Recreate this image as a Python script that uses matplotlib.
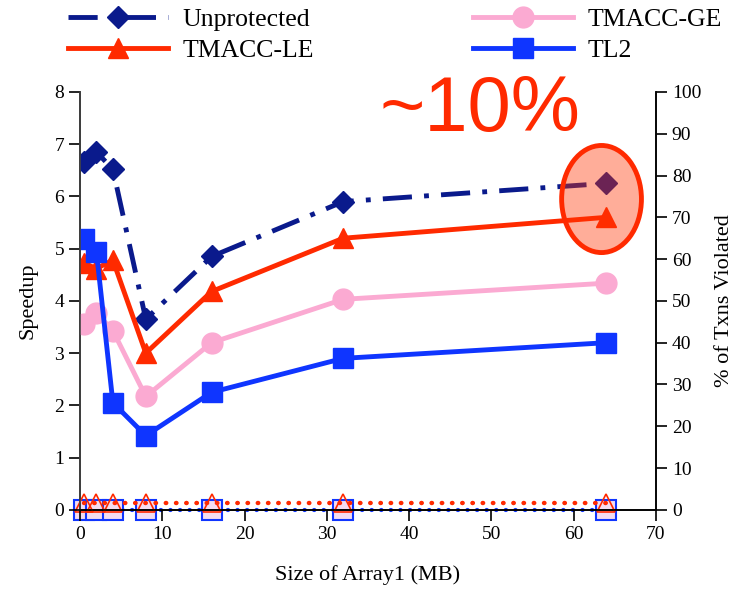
import matplotlib.pyplot as plt
from matplotlib.patches import Ellipse

# Data
sizes_mb = [0.5, 2, 4, 8, 16, 32, 64]
unprotected = [6.65, 6.85, 6.52, 3.65, 4.85, 5.9, 6.25]
tmacc_le = [4.72, 4.62, 4.78, 3.0, 4.18, 5.2, 5.6]
tmacc_ge = [3.55, 3.77, 3.43, 2.17, 3.2, 4.03, 4.34]
tl2 = [5.18, 4.94, 2.05, 1.42, 2.25, 2.9, 3.2]

# % of transactions violated (right axis)
viol_le = [1.7, 1.7, 1.7, 1.7, 1.7, 1.7, 1.7]
viol_tl2 = [0, 0, 0, 0, 0, 0, 0]

C_NAVY = '#0a1a8c'
C_RED = '#ff2a00'
C_PINK = '#fbaad2'
C_BLUE = '#0f35ff'

plt.rcParams['font.family'] = ['Liberation Serif', 'DejaVu Serif']

fig = plt.figure(figsize=(7.44, 5.97), dpi=100)
ax = fig.add_axes([0.1075, 0.146, 0.774, 0.70])
ax2 = ax.twinx()

# violation curves on the right axis
ax2.plot(sizes_mb, viol_tl2, linestyle=(0, (0.1, 2.2)), dash_capstyle='round', color=C_BLUE,
         lw=3, marker='s', ms=15, markerfacecolor='#f3dcf0', markeredgecolor=C_BLUE,
         markeredgewidth=1.5, zorder=2, clip_on=False)
ax2.plot(sizes_mb, viol_le, linestyle=(0, (0.1, 2.2)), dash_capstyle='round', color=C_RED,
         lw=3.2, marker='^', ms=13, markerfacecolor='none', markeredgecolor=C_RED,
         markeredgewidth=1.2, zorder=3, clip_on=False)
ax2.set_ylim(0, 100)
ax2.set_yticks(range(0, 101, 10))
ax2.set_ylabel('% of Txns Violated', fontsize=16, labelpad=10)

# speedup curves
ax.set_zorder(ax2.get_zorder() + 1)
ax.patch.set_visible(False)
h1, = ax.plot(sizes_mb, unprotected, color=C_NAVY, lw=3.5, linestyle=(0, (6, 2.5, 1, 2.5)),
              marker='D', ms=11, label='Unprotected')
h2, = ax.plot(sizes_mb, tmacc_le, color=C_RED, lw=3.5, marker='^', ms=15, label='TMACC-LE')
h3, = ax.plot(sizes_mb, tmacc_ge, color=C_PINK, lw=3.5, marker='o', ms=15, label='TMACC-GE')
h4, = ax.plot(sizes_mb, tl2, color=C_BLUE, lw=3.5, marker='s', ms=14, label='TL2')

ax.set_xlim(0, 70)
ax.set_ylim(0, 8)
ax.set_xticks(range(0, 71, 10))
ax.set_yticks(range(0, 9))
ax.set_xlabel('Size of Array1 (MB)', fontsize=16, labelpad=16)
ax.set_ylabel('Speedup', fontsize=16, labelpad=12)

for a in (ax, ax2):
    a.tick_params(labelsize=14, length=8, width=1.2, direction='out')
    a.spines['top'].set_visible(False)
    for s in a.spines.values():
        s.set_linewidth(1.2)
ax.spines['left'].set_color('#444444')
ax2.spines['right'].set_color('#222222')

# highlight ellipse
ell = Ellipse((63.4, 5.95), 9.7, 2.05, facecolor=(1, 0.2, 0, 0.4),
              edgecolor=C_RED, lw=3.5, zorder=10, clip_on=False)
ax.add_patch(ell)
fig.text(0.51, 1 - 131 / 597, '~10%', color=C_RED, fontsize=56,
         family=['Liberation Sans', 'DejaVu Sans'], ha='left', va='baseline')

fig.legend(handles=[h1, h2, h3, h4], loc='upper left', bbox_to_anchor=(68 / 744, 1 - 8 / 597),
           ncol=2, frameon=False, fontsize=18.5, columnspacing=6.2, handlelength=3.9,
           labelspacing=0.3, handletextpad=0.55, borderpad=0, borderaxespad=0)

fig.savefig('out.png', dpi=100)
